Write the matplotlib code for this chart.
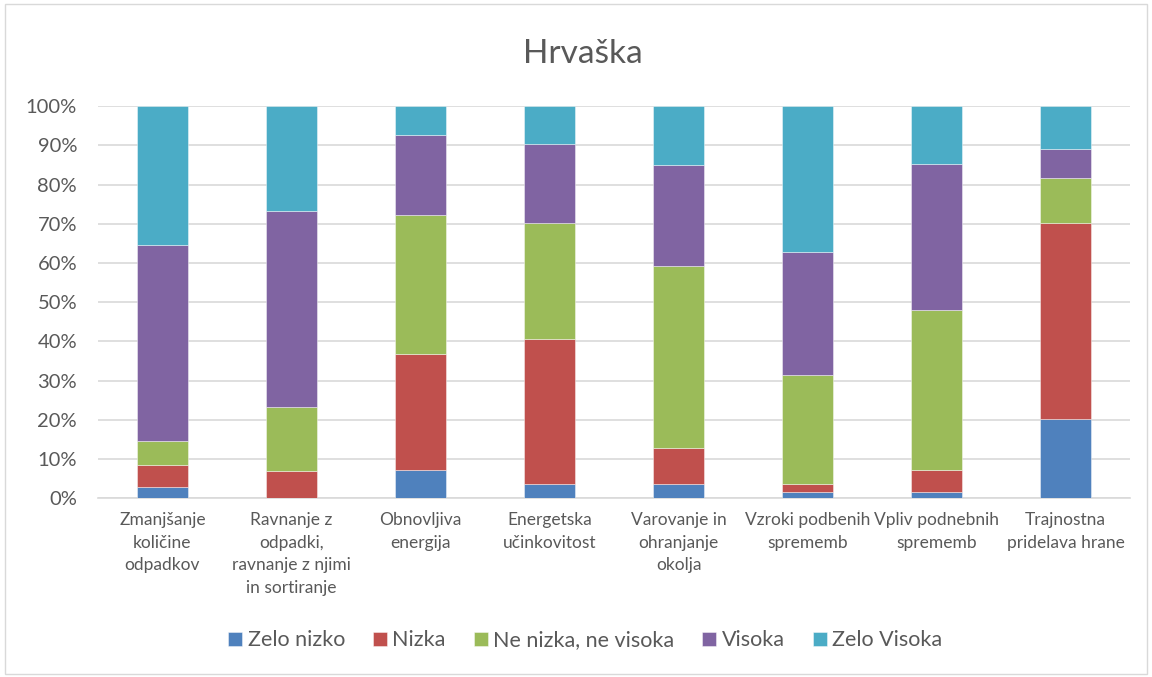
import matplotlib
matplotlib.use("Agg")
import matplotlib.pyplot as plt
from matplotlib.patches import Rectangle
import numpy as np

plt.rcParams['font.family'] = ['Lato', 'DejaVu Sans']

categories = [
    "Zmanjšanje\nkoličine\nodpadkov",
    "Ravnanje z\nodpadki,\nravnanje z njimi\nin sortiranje",
    "Obnovljiva\nenergija",
    "Energetska\nučinkovitost",
    "Varovanje in\nohranjanje\nokolja",
    "Vzroki podbenih\nsprememb",
    "Vpliv podnebnih\nsprememb",
    "Trajnostna\npridelava hrane",
]
series_names = ["Zelo nizko", "Nizka", "Ne nizka, ne visoka", "Visoka", "Zelo Visoka"]
zelo_nizko = [2.8, 0.0, 7.3, 3.6, 3.6, 1.6, 1.6, 20.2]
nizka = [5.8, 7.0, 29.6, 37.0, 9.2, 2.0, 5.6, 50.1]
ne_nizka = [6.0, 16.3, 35.3, 29.6, 46.4, 27.8, 40.8, 11.3]
visoka = [50.0, 50.0, 20.4, 20.3, 25.8, 31.5, 37.2, 7.4]
zelo_visoka = [35.4, 26.7, 7.4, 9.5, 15.0, 37.1, 14.8, 11.0]
colors = ["#4F81BD", "#C0504D", "#9BBB59", "#8064A2", "#4BACC6"]

data = [zelo_nizko, nizka, ne_nizka, visoka, zelo_visoka]

fig = plt.figure(figsize=(11.52, 6.77), dpi=100)
ax = fig.add_axes([0.085, 0.264, 0.896, 0.579])

x = np.arange(len(categories))
bottom = np.zeros(len(categories))
for name, vals, c in zip(series_names, data, colors):
    v = np.array(vals)
    ax.bar(x, v, bottom=bottom, width=0.4, color=c, label=name,
           edgecolor=(1, 1, 1, 0.5), linewidth=0.6, zorder=3)
    bottom += v

ax.set_xlim(-0.5, len(categories) - 0.5)
ax.set_ylim(0, 100)
ax.set_yticks(np.arange(0, 101, 10))
ax.set_yticklabels([f"{t}%" for t in range(0, 101, 10)], fontsize=14.5, color="#595959")
ax.set_xticks(x)
ax.set_xticklabels(categories, fontsize=12.5, color="#595959", linespacing=1.5)
ax.tick_params(axis='y', length=0, pad=15)
ax.tick_params(axis='x', length=0, pad=10)
ax.grid(axis='y', color="#d9d9d9", linewidth=1.2, zorder=0)
for s in ['top', 'right', 'left']:
    ax.spines[s].set_visible(False)
ax.spines['bottom'].set_color("#d9d9d9")
ax.spines['bottom'].set_linewidth(1.2)

fig.text(0.506, 0.92, "Hrvaška", ha='center', va='center', fontsize=24, color="#595959")

leg = fig.legend(loc='center', bbox_to_anchor=(0.508, 0.054), ncol=5, frameon=False,
                 fontsize=15.5, handlelength=0.65, handleheight=0.65, handletextpad=0.25,
                 columnspacing=1.3)
for t in leg.get_texts():
    t.set_color("#595959")

fig.patches.append(Rectangle((0.004, 0.004), 0.992, 0.99, transform=fig.transFigure,
                             fill=False, edgecolor="#d9d9d9", linewidth=1.0))

fig.savefig("out.png", dpi=100)
